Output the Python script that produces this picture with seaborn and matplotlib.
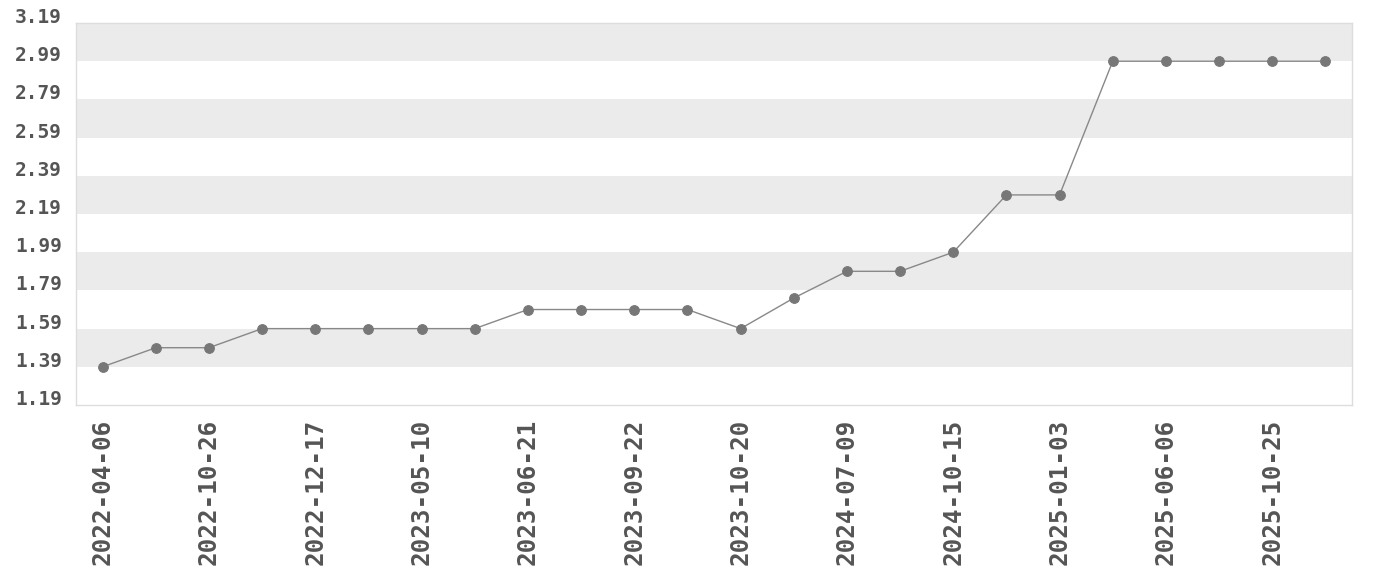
#!/usr/bin/env python3

import pandas as pd
import numpy as np
import matplotlib.pyplot as plt
import seaborn as sns

# Data (only every other date is labelled)
dates = ["2022-04-06", "2022-07-20", "2022-10-26", "2022-11-30",
         "2022-12-17", "2023-03-22", "2023-05-10", "2023-06-14",
         "2023-06-21", "2023-07-26", "2023-09-22", "2023-10-04",
         "2023-10-20", "2024-03-20", "2024-07-09", "2024-09-18",
         "2024-10-15", "2024-12-11", "2025-01-03", "2025-03-19",
         "2025-06-06", "2025-07-30", "2025-10-25", "2025-12-10"]
values = [1.39, 1.49, 1.49, 1.59, 1.59, 1.59, 1.59, 1.59,
          1.69, 1.69, 1.69, 1.69, 1.59, 1.75, 1.89, 1.89,
          1.99, 2.29, 2.29, 2.99, 2.99, 2.99, 2.99, 2.99]
y_ticks = [1.19, 1.39, 1.59, 1.79, 1.99, 2.19, 2.39, 2.59, 2.79, 2.99, 3.19]

df = pd.DataFrame({"date": dates, "value": values})
df["pos"] = range(len(df))

sns.set_style("white")
plt.rcParams["font.family"] = ["DejaVu Sans Mono", "DejaVu Sans"]

fig, ax = plt.subplots(figsize=(13.8, 5.8), dpi=100)
fig.subplots_adjust(left=0.0551, right=0.9797, top=0.9603, bottom=0.3017)

# Alternating horizontal bands, top band grey
for i in range(len(y_ticks) - 1):
    if (len(y_ticks) - 2 - i) % 2 == 0:
        ax.axhspan(y_ticks[i], y_ticks[i + 1], color="#ebebeb", zorder=0, lw=0)

sns.lineplot(data=df, x="pos", y="value", ax=ax, color="#888888", linewidth=1,
             marker="o", markersize=7, markerfacecolor="#777777",
             markeredgecolor="#777777", zorder=3)

ax.set_xlim(-0.5, len(df) - 0.5)
ax.set_ylim(y_ticks[0], y_ticks[-1])

ax.set_xticks(df["pos"][::2])
ax.set_xticklabels(df["date"][::2], rotation=90, fontsize=17.5,
                   fontweight="bold", color="#555555")
ax.set_yticks(y_ticks)
ax.set_yticklabels([f"{t:.2f}" for t in y_ticks], fontsize=14,
                   fontweight="bold", color="#555555", va="baseline")
ax.tick_params(axis="x", length=0, pad=10)
ax.tick_params(axis="y", length=0, pad=10)

ax.set_xlabel("")
ax.set_ylabel("")
for side in ["left", "right", "bottom", "top"]:
    ax.spines[side].set_color("#dddddd")
    ax.spines[side].set_linewidth(1)

plt.savefig("out.png", dpi=100)
